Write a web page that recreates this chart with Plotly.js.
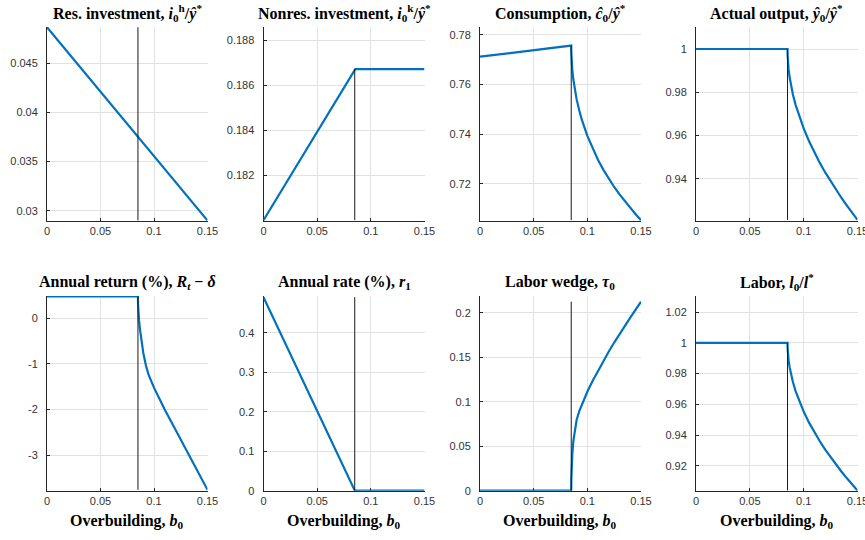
<!DOCTYPE html>
<html>
<head>
<meta charset="utf-8">
<script src="https://cdn.plot.ly/plotly-3.0.1.min.js"></script>
<style>html,body{margin:0;padding:0;background:#fff;}#chart{width:865px;height:540px;}</style>
</head>
<body>
<div id="chart"></div>
<script>
// ---- data ----
const b0 = [0,0.01,0.02,0.03,0.04,0.05,0.06,0.07,0.08,0.085,0.0851,0.0855,0.086,0.087,0.088,0.09,0.0925,0.095,0.1,0.105,0.11,0.115,0.12,0.125,0.13,0.135,0.14,0.145,0.15];
const bKink = 0.085;

const resInv = [0.04870,0.04739,0.04607,0.04476,0.04345,0.04213,0.04082,0.03951,0.03819,0.03754,0.03752,0.03747,0.03741,0.03727,0.03714,0.03688,0.03655,0.03622,0.03557,0.03491,0.03425,0.03360,0.03294,0.03228,0.03163,0.03097,0.03031,0.02966,0.02900];
const nonresInv = [0.18000,0.18079,0.18158,0.18238,0.18317,0.18396,0.18475,0.18554,0.18633,0.18673,0.18673,0.18673,0.18673,0.18673,0.18673,0.18673,0.18673,0.18673,0.18673,0.18673,0.18673,0.18673,0.18673,0.18673,0.18673,0.18673,0.18673,0.18673,0.18673];
const consumption = [0.7712,0.7717,0.7723,0.7728,0.7733,0.7738,0.7744,0.7749,0.7754,0.7757,0.7726,0.7687,0.7659,0.7619,0.7588,0.7541,0.7495,0.7456,0.7393,0.7341,0.7296,0.7256,0.7220,0.7187,0.7157,0.7129,0.7102,0.7077,0.7053];
const output = [1,1,1,1,1,1,1,1,1,1,0.9971,0.9934,0.9907,0.9868,0.9838,0.9790,0.9742,0.9702,0.9633,0.9574,0.9522,0.9474,0.9430,0.9389,0.9350,0.9313,0.9278,0.9244,0.9211];
const annualReturn = [0.48,0.48,0.48,0.48,0.48,0.48,0.48,0.48,0.48,0.48,0.30,0.10,-0.04,-0.26,-0.44,-0.76,-1.04,-1.24,-1.52,-1.77,-2.00,-2.22,-2.44,-2.65,-2.86,-3.07,-3.29,-3.52,-3.76];
const annualRate = [0.490,0.432,0.375,0.317,0.259,0.202,0.144,0.086,0.029,0,0,0,0,0,0,0,0,0,0,0,0,0,0,0,0,0,0,0,0];
const laborWedge = [0,0,0,0,0,0,0,0,0,0,0.013,0.029,0.041,0.056,0.066,0.0795,0.0895,0.0975,0.1112,0.1235,0.135,0.146,0.1565,0.1665,0.1762,0.1855,0.1945,0.2035,0.2124];
const labor = [1,1,1,1,1,1,1,1,1,1,0.9964,0.9920,0.9887,0.9840,0.9803,0.9745,0.9686,0.9637,0.9553,0.9481,0.9418,0.9360,0.9306,0.9256,0.9209,0.9164,0.9121,0.9080,0.9040];

const xTickVals = [0,0.05,0.1,0.15];
const xTickText = ['0','0.05','0.1','0.15'];

const titles = [
  'Res. investment, <i>i</i><sub>0</sub><sup>h</sup>/<i>ŷ</i><sup>*</sup>',
  'Nonres. investment, <i>i</i><sub>0</sub><sup>k</sup>/<i>ŷ</i><sup>*</sup>',
  'Consumption, <i>ĉ</i><sub>0</sub>/<i>ŷ</i><sup>*</sup>',
  'Actual output, <i>ŷ</i><sub>0</sub>/<i>ŷ</i><sup>*</sup>',
  'Annual return (%), <i>R</i><sub><i>t</i></sub> − <i>δ</i>',
  'Annual rate (%), <i>r</i><sub>1</sub>',
  'Labor wedge, <i>τ</i><sub>0</sub>',
  'Labor, <i>l</i><sub>0</sub>/<i>l</i><sup>*</sup>'
];
const xLabel = 'Overbuilding, <i>b</i><sub>0</sub>';

const series = [resInv, nonresInv, consumption, output, annualReturn, annualRate, laborWedge, labor];
const yTickVals = [
  [0.03,0.035,0.04,0.045],
  [0.182,0.184,0.186,0.188],
  [0.72,0.74,0.76,0.78],
  [0.94,0.96,0.98,1],
  [-3,-2,-1,0],
  [0,0.1,0.2,0.3,0.4],
  [0,0.05,0.1,0.15,0.2],
  [0.92,0.94,0.96,0.98,1,1.02]
];
const yTickText = [
  ['0.03','0.035','0.04','0.045'],
  ['0.182','0.184','0.186','0.188'],
  ['0.72','0.74','0.76','0.78'],
  ['0.94','0.96','0.98','1'],
  ['-3','-2','-1','0'],
  ['0','0.1','0.2','0.3','0.4'],
  ['0','0.05','0.1','0.15','0.2'],
  ['0.92','0.94','0.96','0.98','1','1.02']
];

// ---- layout (styling / positions) ----
const yRanges = [
  [0.02898,0.04875],[0.17998,0.18862],[0.7051,0.7833],[0.9207,1.0103],
  [-3.78,0.49],[0,0.493],[0,0.2188],[0.9039,1.0304]
];
const W = 865, H = 540;
const colPx = [[47,207.5],[263.5,424.5],[480,641],[696,857.5]];
const rowPx = [[26.7,220.7],[296,490.7]];

const data = [];
const layout = {
  width: W, height: H,
  margin: {l:0,r:0,t:0,b:0},
  paper_bgcolor: '#ffffff', plot_bgcolor: '#ffffff',
  showlegend: false,
  annotations: []
};
const serif = 'Liberation Serif, Times New Roman, serif';
const tickFont = {family:'Liberation Sans, Arial, sans-serif', size:11, color:'#333333'};

for (let i = 0; i < 8; i++) {
  const r = Math.floor(i/4), c = i % 4;
  const sfx = i === 0 ? '' : String(i+1);
  const xd = [colPx[c][0]/W, colPx[c][1]/W];
  const yd = [1 - rowPx[r][1]/H, 1 - rowPx[r][0]/H];
  const axCommon = {
    showgrid: true, gridcolor: '#e2e2e2', gridwidth: 1,
    zeroline: false, showline: true, linecolor: '#262626', linewidth: 1,
    ticks: 'inside', ticklen: 3, tickcolor: '#262626', tickwidth: 1,
    tickfont: tickFont, layer: 'below traces', fixedrange: true,
    ticklabeloverflow: 'allow'
  };
  layout['xaxis'+sfx] = Object.assign({}, axCommon, {
    domain: xd, anchor: 'y'+sfx, range: [0,0.15],
    tickmode: 'array', tickvals: xTickVals, ticktext: xTickText
  });
  layout['yaxis'+sfx] = Object.assign({}, axCommon, {
    domain: yd, anchor: 'x'+sfx, range: yRanges[i],
    tickmode: 'array', tickvals: yTickVals[i], ticktext: yTickText[i],
    ticklabelstandoff: 6
  });
  const ys = series[i];
  data.push({
    x: b0, y: ys, xaxis: 'x'+sfx, yaxis: 'y'+sfx,
    type: 'scatter', mode: 'lines',
    line: {color: '#0072BD', width: 2.2}, hoverinfo: 'skip'
  });
  data.push({
    x: [bKink, bKink], y: [Math.min(...ys), Math.max(...ys)],
    xaxis: 'x'+sfx, yaxis: 'y'+sfx,
    type: 'scatter', mode: 'lines',
    line: {color: '#1a1a1a', width: 1}, hoverinfo: 'skip'
  });
  const cx = (xd[0]+xd[1])/2;
  layout.annotations.push({
    text: '<b>' + titles[i] + '</b>', xref: 'paper', yref: 'paper',
    x: cx, y: 1 - (r === 0 ? 13 : 282)/H, xanchor: 'center', yanchor: 'middle',
    showarrow: false, font: {family: serif, size: 16, color: '#000'}
  });
  if (r === 1) {
    layout.annotations.push({
      text: '<b>' + xLabel + '</b>', xref: 'paper', yref: 'paper',
      x: cx, y: 1 - 521/H, xanchor: 'center', yanchor: 'middle',
      showarrow: false, font: {family: serif, size: 16, color: '#000'}
    });
  }
}

Plotly.newPlot('chart', data, layout, {staticPlot: true, displayModeBar: false});
</script>
</body>
</html>
